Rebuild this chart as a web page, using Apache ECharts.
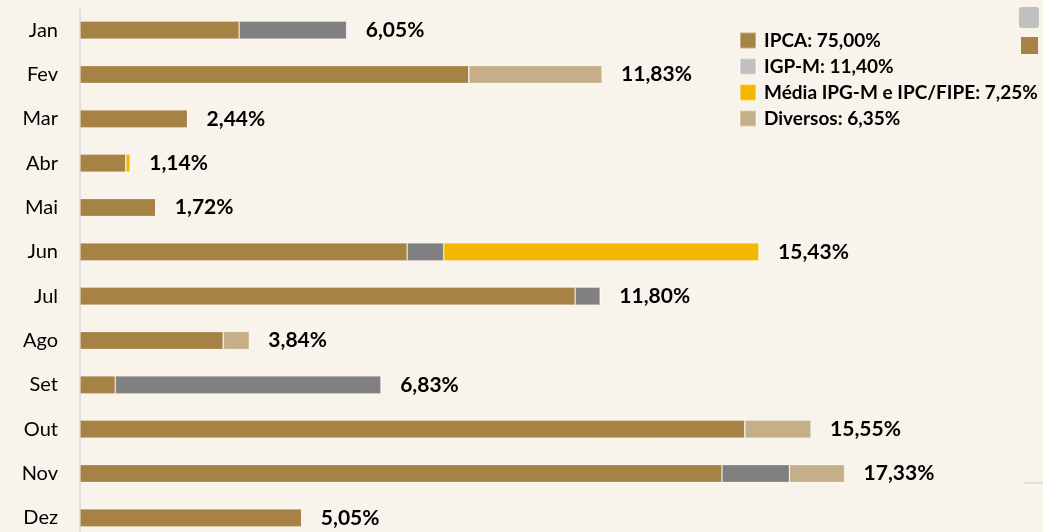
<!DOCTYPE html>
<html>
<head>
<meta charset="utf-8">
<script src="https://cdn.jsdelivr.net/npm/echarts@6/dist/echarts.min.js"></script>
<style>
  html, body { margin: 0; padding: 0; background: #F8F4EC; }
  #chart { width: 1043px; height: 532px; }
</style>
</head>
<body>
<div id="chart"></div>
<script>
var months = ['Jan', 'Fev', 'Mar', 'Abr', 'Mai', 'Jun', 'Jul', 'Ago', 'Set', 'Out', 'Nov', 'Dez'];
var ipca     = [3.61, 8.82, 2.44, 1.04, 1.72, 7.42, 11.23, 3.25, 0.80, 15.08, 14.56, 5.03];
var igpm     = [2.44, 0, 0, 0, 0, 0.83, 0.57, 0, 6.03, 0, 1.53, 0];
var media    = [0, 0, 0, 0.10, 0, 7.15, 0, 0, 0, 0, 0, 0];
var diversos = [0, 3.02, 0, 0, 0, 0, 0, 0.59, 0, 1.50, 1.25, 0];
var totalLabels = ['6,05%', '11,83%', '2,44%', '1,14%', '1,72%', '15,43%', '11,80%', '3,84%', '6,83%', '15,55%', '17,33%', '5,05%'];
var seriesNames = ['IPCA: 75,00%', 'IGP-M: 11,40%', 'Média IPG-M e IPC/FIPE: 7,25%', 'Diversos: 6,35%'];

var font = 'Lato';
var myChart = echarts.init(document.getElementById('chart'));

function bar(name, data, color) {
    return {
        name: name,
        type: 'bar',
        stack: 'total',
        barWidth: 18,
        data: data,
        itemStyle: { color: color, borderColor: 'rgba(255,255,255,0.35)', borderWidth: 0.8 },
        emphasis: { disabled: true }
    };
}

option = {
    backgroundColor: '#F8F4EC',
    animation: false,
    grid: { left: 80, top: 8, height: 532, width: 963, outerBoundsMode: 'none', containLabel: false },
    legend: {
        orient: 'vertical',
        left: 739,
        top: 31,
        padding: 0,
        itemWidth: 16,
        itemHeight: 16,
        itemGap: 7,
        icon: 'rect',
        selectedMode: false,
        textStyle: { fontFamily: font, fontWeight: 'bold', fontSize: 19, lineHeight: 19, color: '#000', padding: [0, 0, 0, 3] },
        data: [
            { name: seriesNames[0] },
            { name: seriesNames[1], itemStyle: { color: '#C0C0C0' } },
            { name: seriesNames[2] },
            { name: seriesNames[3] }
        ]
    },
    xAxis: { type: 'value', min: 0, max: 21.84, show: false },
    yAxis: {
        type: 'category',
        inverse: true,
        data: months,
        axisTick: { show: false },
        axisLine: { lineStyle: { color: '#D9D9D9', width: 1.5 } },
        axisLabel: { fontFamily: font, fontSize: 20, color: '#000', margin: 22 }
    },
    series: [
        bar(seriesNames[0], ipca, '#A68244'),
        bar(seriesNames[1], igpm, '#808080'),
        bar(seriesNames[2], media, '#F2B800'),
        bar(seriesNames[3], diversos, '#C6AE88'),
        {
            name: 'total',
            type: 'bar',
            stack: 'total',
            barWidth: 18,
            data: months.map(function () { return 0; }),
            itemStyle: { color: 'transparent' },
            label: {
                show: true,
                position: 'right',
                distance: 19,
                fontFamily: font,
                fontWeight: 'bold',
                fontSize: 21,
                color: '#000',
                formatter: function (p) { return totalLabels[p.dataIndex]; }
            }
        }
    ],
    graphic: [
        { type: 'rect', shape: { x: 1019, y: 7, width: 20, height: 21, r: 3 }, style: { fill: '#C0C0C0' } },
        { type: 'rect', shape: { x: 1021, y: 37, width: 17, height: 17 }, style: { fill: '#A68244' } },
        { type: 'line', shape: { x1: 1024, y1: 483, x2: 1043, y2: 483 }, style: { stroke: '#D9D9D9', lineWidth: 1.5 } }
    ]
};
myChart.setOption(option, true);
</script>
</body>
</html>
